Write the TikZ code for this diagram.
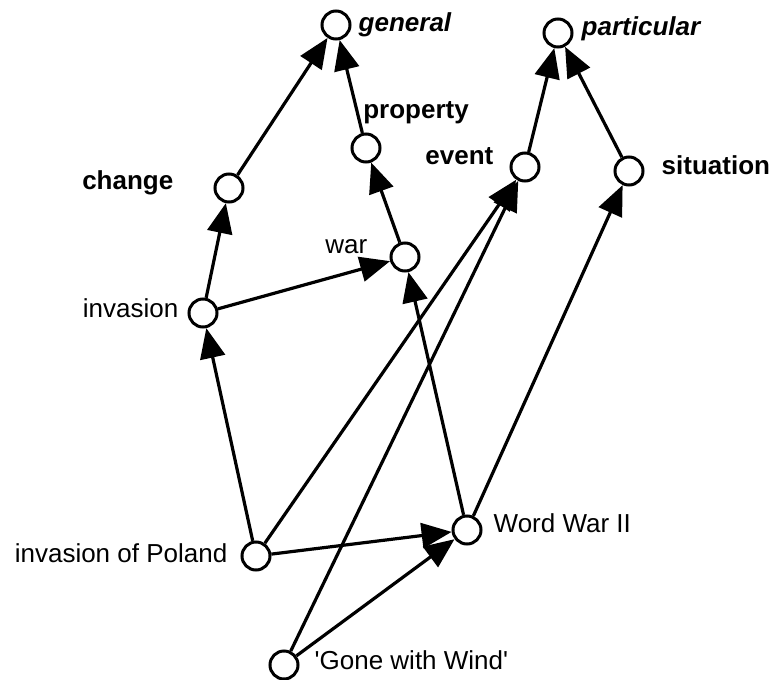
\documentclass[tikz,border=0pt]{standalone}
\usepackage{fontspec}
\setmainfont[Ligatures=TeXOff]{Liberation Sans}
\usetikzlibrary{arrows.meta}

\begin{document}
\begin{tikzpicture}[x=1pt, y=-1pt,
    concept/.style={circle, draw=black, fill=white, line width=3pt, inner sep=0pt, minimum size=28pt},
    every label/.style={inner sep=0pt, text height=18.7pt, text depth=5.5pt, font=\fontsize{26}{30}\selectfont},
    link/.style={draw, line width=3.2pt, -{Triangle[length=30pt, width=25pt]}}
    ]
    \useasboundingbox (0,0) rectangle (774,680);

    % upper level
    \node[concept, label={[label distance=7pt]right:\textbf{\textit{general}}}] (general) at (336,25) {};
    \node[concept, label={[label distance=8pt, yshift=4pt]right:\textbf{\textit{particular}}}] (particular) at (558,33) {};

    % middle level
    \node[concept, label={[label distance=8pt, xshift=50pt]above:\textbf{property}}] (property) at (366,148) {};
    \node[concept, label={[label distance=40pt, yshift=5pt]left:\textbf{change}}] (change) at (229,188) {};
    \node[concept, label={[label distance=16pt, yshift=9pt]left:\textbf{event}}] (event) at (525,167) {};
    \node[concept, label={[label distance=17pt, yshift=3pt]right:\textbf{situation}}] (situation) at (629,171) {};

    \node[concept, label={[label distance=22pt, yshift=10pt]left:war}] (war) at (405,257) {};
    \node[concept, label={[label distance=9pt, yshift=2pt]left:invasion}] (invasion) at (203,313) {};

    % instances
    \node[concept, label={[label distance=13pt]left:invasion of Poland}] (poland) at (256,556) {};
    \node[concept, label={[label distance=11pt, yshift=4pt]right:Word War II}] (wwii) at (467,530) {};
    \node[concept, label={[label distance=15pt, yshift=2pt]right:'Gone with Wind'}] (gone) at (284,665) {};

    \path[every edge/.style={link}]
    (change) edge (general)
    (property) edge (general)
    (event) edge (particular)
    (situation) edge (particular)
    (invasion) edge (change)
    (war) edge (property)
    (invasion) edge (war)
    ;

    \path[every edge/.style={link}]
    (poland) edge (invasion)
    (poland) edge (event)
    (poland) edge (wwii)
    (wwii) edge (war)
    (wwii) edge (situation)
    (gone) edge (event)
    (gone) edge (wwii)
    ;

\end{tikzpicture}
\end{document}
